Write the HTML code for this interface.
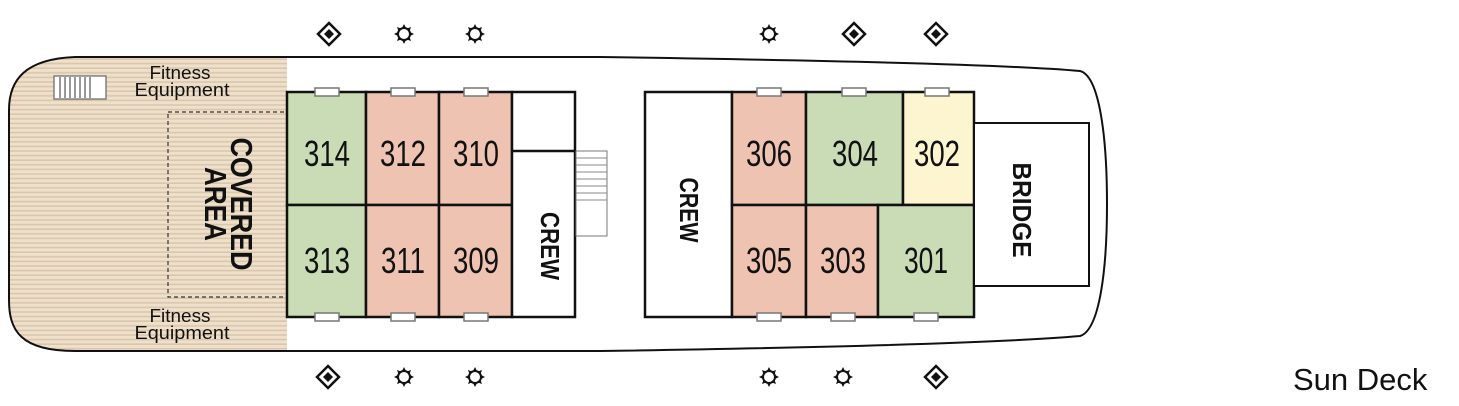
<!DOCTYPE html>
<html><head><meta charset="utf-8"><style>
html,body{margin:0;padding:0;background:#fff;width:1459px;height:406px;overflow:hidden}
svg{display:block}
text{font-family:"Liberation Sans",sans-serif;fill:#111}
.num{font-size:36px;text-anchor:middle}
.lbl{font-size:18px;text-anchor:middle}
.rot{font-weight:bold;text-anchor:middle}
</style></head><body>
<svg width="1459" height="406" viewBox="0 0 1459 406" xmlns="http://www.w3.org/2000/svg">
<defs>
<pattern id="wood" width="10" height="4.6" patternUnits="userSpaceOnUse">
<rect width="10" height="4.6" fill="#efe0cb"/><rect y="3" width="10" height="1.6" fill="#d9c6ad"/>
</pattern>
<clipPath id="hull"><path d="M75,57 L600,57 C800,60 1000,64 1080,71 C1100,76 1107,140 1107,204 C1107,268 1100,330 1080,336 C1000,343 800,348 600,351 L75,351 C20,351 9,330 9,300 L9,110 C9,80 25,59 75,57 Z"/></clipPath>
<g id="dia"><path d="M0,-11 L11,0 L0,11 L-11,0 Z" fill="none" stroke="#111" stroke-width="2.5"/><path d="M0,-5 L5,0 L0,5 L-5,0 Z" fill="#111"/></g>
<g id="sun"><circle r="6" fill="none" stroke="#111" stroke-width="2"/><g fill="#111"><path d="M0,-10 L2,-6 L-2,-6Z"/><path d="M0,10 L2,6 L-2,6Z"/><path d="M-10,0 L-6,2 L-6,-2Z"/><path d="M10,0 L6,2 L6,-2Z"/><path d="M7,-7 L3,-5.5 L5.5,-3Z"/><path d="M-7,-7 L-3,-5.5 L-5.5,-3Z"/><path d="M7,7 L3,5.5 L5.5,3Z"/><path d="M-7,7 L-3,5.5 L-5.5,3Z"/></g></g>
</defs>
<rect x="0" y="0" width="287" height="406" fill="url(#wood)" clip-path="url(#hull)"/>
<path d="M75,57 L600,57 C800,60 1000,64 1080,71 C1100,76 1107,140 1107,204 C1107,268 1100,330 1080,336 C1000,343 800,348 600,351 L75,351 C20,351 9,330 9,300 L9,110 C9,80 25,59 75,57 Z" fill="none" stroke="#111" stroke-width="2"/>
<rect x="54" y="76" width="52" height="23" fill="#fff" stroke="#666" stroke-width="1.2"/>
<g stroke="#777" stroke-width="1.5"><line x1="60" y1="77" x2="60" y2="98"/><line x1="65" y1="77" x2="65" y2="98"/><line x1="70" y1="77" x2="70" y2="98"/><line x1="75" y1="77" x2="75" y2="98"/><line x1="80" y1="77" x2="80" y2="98"/><line x1="85" y1="77" x2="85" y2="98"/><line x1="90" y1="77" x2="90" y2="98"/></g>
<text class="lbl" x="180" y="79" textLength="61" lengthAdjust="spacingAndGlyphs">Fitness</text><text class="lbl" x="182" y="96" textLength="95" lengthAdjust="spacingAndGlyphs">Equipment</text>
<text class="lbl" x="180" y="322" textLength="61" lengthAdjust="spacingAndGlyphs">Fitness</text><text class="lbl" x="182" y="339" textLength="95" lengthAdjust="spacingAndGlyphs">Equipment</text>
<rect x="168" y="112" width="119" height="185" fill="none" stroke="#333" stroke-width="1.2" stroke-dasharray="4,3"/>
<text class="rot" transform="translate(231,204) rotate(90)" style="font-size:31px" textLength="133" lengthAdjust="spacingAndGlyphs">COVERED</text>
<text class="rot" transform="translate(205,204) rotate(90)" style="font-size:31px" textLength="74" lengthAdjust="spacingAndGlyphs">AREA</text>
<g stroke="#111" stroke-width="2.5">
<rect x="287" y="92" width="79" height="113" fill="#cadcb5"/>
<rect x="287" y="205" width="79" height="112" fill="#cadcb5"/>
<rect x="366" y="92" width="73" height="113" fill="#eec3b2"/>
<rect x="366" y="205" width="73" height="112" fill="#eec3b2"/>
<rect x="439" y="92" width="73" height="113" fill="#eec3b2"/>
<rect x="439" y="205" width="73" height="112" fill="#eec3b2"/>
<rect x="512" y="92" width="63" height="225" fill="#fff"/>
<line x1="512" y1="151" x2="575" y2="151"/>
</g>
<rect x="576" y="151" width="31" height="85" fill="#fff" stroke="#777" stroke-width="1"/>
<g stroke="#888" stroke-width="1"><line x1="576" y1="158" x2="607" y2="158"/><line x1="576" y1="165" x2="607" y2="165"/><line x1="576" y1="172" x2="607" y2="172"/><line x1="576" y1="179" x2="607" y2="179"/><line x1="576" y1="186" x2="607" y2="186"/><line x1="576" y1="193" x2="607" y2="193"/><line x1="576" y1="200" x2="607" y2="200"/></g>
<text class="num" x="327" y="166" textLength="46" lengthAdjust="spacingAndGlyphs">314</text><text class="num" x="403" y="166" textLength="46" lengthAdjust="spacingAndGlyphs">312</text><text class="num" x="476" y="166" textLength="46" lengthAdjust="spacingAndGlyphs">310</text>
<text class="num" x="327" y="273" textLength="46" lengthAdjust="spacingAndGlyphs">313</text><text class="num" x="403" y="273" textLength="44" lengthAdjust="spacingAndGlyphs">311</text><text class="num" x="476" y="273" textLength="46" lengthAdjust="spacingAndGlyphs">309</text>
<text class="rot" transform="translate(541,246) rotate(90)" style="font-size:26px" textLength="68" lengthAdjust="spacingAndGlyphs">CREW</text>
<g stroke="#111" stroke-width="2.5">
<rect x="645" y="92" width="87" height="225" fill="#fff"/>
<rect x="732" y="92" width="74" height="113" fill="#eec3b2"/>
<rect x="806" y="92" width="97" height="113" fill="#cadcb5"/>
<rect x="903" y="92" width="71" height="113" fill="#fdf5cf"/>
<rect x="732" y="205" width="74" height="112" fill="#eec3b2"/>
<rect x="806" y="205" width="72" height="112" fill="#eec3b2"/>
<rect x="878" y="205" width="96" height="112" fill="#cadcb5"/>
<rect x="974" y="123" width="115" height="163" fill="#fff" stroke-width="2"/>
</g>
<text class="num" x="769" y="166" textLength="46" lengthAdjust="spacingAndGlyphs">306</text><text class="num" x="855" y="166" textLength="46" lengthAdjust="spacingAndGlyphs">304</text><text class="num" x="937" y="166" textLength="46" lengthAdjust="spacingAndGlyphs">302</text>
<text class="num" x="769" y="273" textLength="46" lengthAdjust="spacingAndGlyphs">305</text><text class="num" x="843" y="273" textLength="46" lengthAdjust="spacingAndGlyphs">303</text><text class="num" x="926" y="273" textLength="44" lengthAdjust="spacingAndGlyphs">301</text>
<text class="rot" transform="translate(680,210) rotate(90)" style="font-size:26px" textLength="65" lengthAdjust="spacingAndGlyphs">CREW</text>
<text class="rot" transform="translate(1013,210) rotate(90)" style="font-size:26px" textLength="95" lengthAdjust="spacingAndGlyphs">BRIDGE</text>
<g fill="#fff" stroke="#777" stroke-width="1.5">
<rect x="315" y="88" width="24" height="8"/><rect x="391" y="88" width="24" height="8"/><rect x="464" y="88" width="24" height="8"/>
<rect x="315" y="313" width="24" height="8"/><rect x="391" y="313" width="24" height="8"/><rect x="464" y="313" width="24" height="8"/>
<rect x="757" y="88" width="24" height="8"/><rect x="842" y="88" width="24" height="8"/><rect x="925" y="88" width="24" height="8"/>
<rect x="757" y="313" width="24" height="8"/><rect x="831" y="313" width="24" height="8"/><rect x="914" y="313" width="24" height="8"/>
</g>
<use href="#dia" x="329" y="34"/><use href="#sun" x="404" y="34"/><use href="#sun" x="475" y="34"/>
<use href="#sun" x="769" y="34"/><use href="#dia" x="854" y="34"/><use href="#dia" x="936" y="34"/>
<use href="#dia" x="328" y="377"/><use href="#sun" x="404" y="377"/><use href="#sun" x="475" y="377"/>
<use href="#sun" x="769" y="377"/><use href="#sun" x="843" y="377"/><use href="#dia" x="936" y="377"/>
<text x="1293" y="390" style="font-size:31px">Sun Deck</text>
</svg>
</body></html>
